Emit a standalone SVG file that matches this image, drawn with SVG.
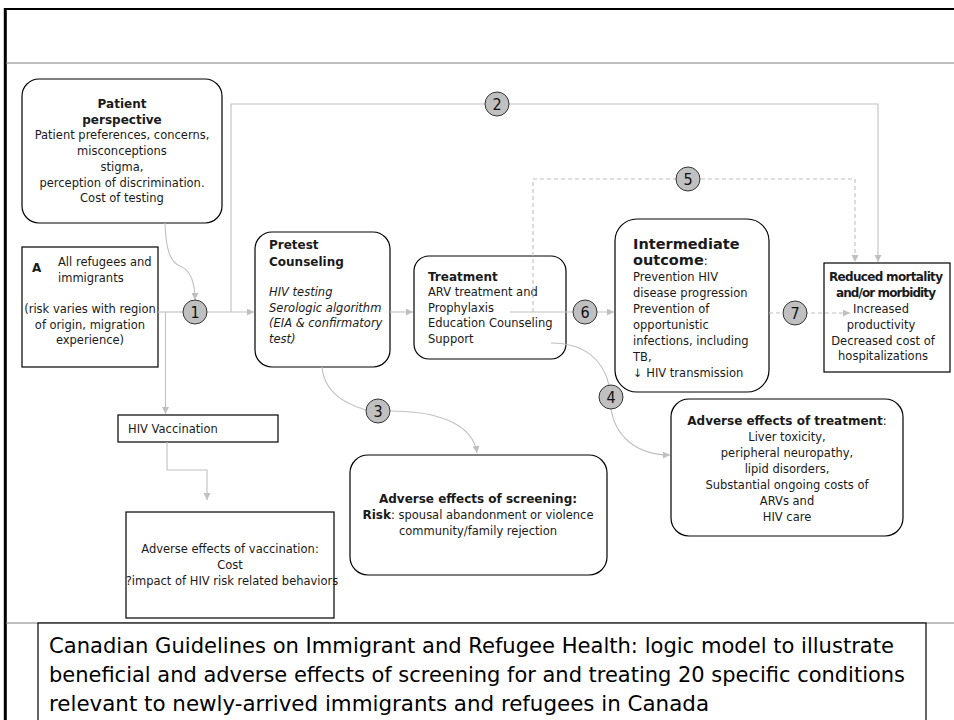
<svg xmlns="http://www.w3.org/2000/svg" width="954" height="720" viewBox="0 0 954 720">
  <defs>
    <marker id="arr" markerWidth="8" markerHeight="8" refX="7" refY="3.5" orient="auto" markerUnits="userSpaceOnUse">
      <path d="M0,0 L7,3.5 L0,7 z" fill="#c0c0c0"/>
    </marker>
  </defs>
  <style>
    .t{font-family:"DejaVu Sans","Liberation Sans",sans-serif;font-size:11.5px;fill:#1a1a1a}
    .b{font-weight:bold;font-size:12px}
    .i{font-style:italic}
    .m{text-anchor:middle}
    .box{fill:#fff;stroke:#000;stroke-width:1.2}
    .c{fill:none;stroke:#c0c0c0;stroke-width:1.1}
    .d{stroke-dasharray:4 3}
    .num circle{fill:#c0c0c0;stroke:#333;stroke-width:1}
    .num text{font-family:"DejaVu Sans Condensed","DejaVu Sans",sans-serif;font-size:16px;text-anchor:middle;fill:#111}
    .cap{font-family:"DejaVu Sans Condensed","DejaVu Sans",sans-serif;font-size:22px;fill:#000}
  </style>

  <rect width="954" height="720" fill="#fff"/>

  <!-- slide frame -->
  <g id="frame">
    <line x1="5.3" y1="8" x2="5.3" y2="720" stroke="#000" stroke-width="3"/>
    <line x1="4" y1="9" x2="954" y2="9" stroke="#000" stroke-width="2"/>
    <line x1="6" y1="63" x2="954" y2="63" stroke="#808080" stroke-width="1"/>
    <line x1="6" y1="623" x2="954" y2="623" stroke="#808080" stroke-width="1"/>
  </g>

  <!-- nodes -->
  <g id="patient-perspective">
    <rect class="box" x="22" y="79" width="200" height="144" rx="17"/>
    <text class="t b m" x="122" y="108">Patient</text>
    <text class="t b m" x="122" y="124">perspective</text>
    <text class="t m" x="122" y="139">Patient preferences, concerns,</text>
    <text class="t m" x="122" y="155">misconceptions</text>
    <text class="t m" x="122" y="171">stigma,</text>
    <text class="t m" x="122" y="187">perception of discrimination.</text>
    <text class="t m" x="122" y="202">Cost of testing</text>
  </g>

  <g id="population">
    <rect class="box" x="22" y="247" width="136" height="120"/>
    <text class="t b" x="32" y="272">A</text>
    <text class="t" x="58" y="266">All refugees and</text>
    <text class="t" x="58" y="282">immigrants</text>
    <text class="t m" x="90" y="313">(risk varies with region</text>
    <text class="t m" x="90" y="329">of origin, migration</text>
    <text class="t m" x="90" y="344">experience)</text>
  </g>

  <g id="pretest">
    <rect class="box" x="255" y="232" width="135" height="135" rx="17"/>
    <text class="t b" x="269" y="249">Pretest</text>
    <text class="t b" x="269" y="266">Counseling</text>
    <text class="t i" x="269" y="296">HIV testing</text>
    <text class="t i" x="269" y="312">Serologic algorithm</text>
    <text class="t i" x="269" y="327">(EIA &amp; confirmatory</text>
    <text class="t i" x="269" y="343">test)</text>
  </g>

  <g id="treatment">
    <rect class="box" x="414" y="256" width="152" height="103" rx="15"/>
    <text class="t b" x="428" y="281">Treatment</text>
    <text class="t" x="428" y="296">ARV treatment and</text>
    <text class="t" x="428" y="312">Prophylaxis</text>
    <text class="t" x="428" y="327">Education Counseling</text>
    <text class="t" x="428" y="343">Support</text>
  </g>

  <g id="intermediate-outcome">
    <rect class="box" x="615" y="219" width="154" height="173" rx="22"/>
    <text class="t b" x="633" y="249" style="font-size:14.5px">Intermediate</text>
    <text class="t" x="633" y="265"><tspan class="b" style="font-size:14.5px">outcome</tspan>:</text>
    <text class="t" x="633" y="281">Prevention HIV</text>
    <text class="t" x="633" y="297">disease progression</text>
    <text class="t" x="633" y="313">Prevention of</text>
    <text class="t" x="633" y="329">opportunistic</text>
    <text class="t" x="633" y="345">infections, including</text>
    <text class="t" x="633" y="361">TB,</text>
    <text class="t" x="633" y="377">↓ HIV transmission</text>
  </g>

  <g id="reduced-mortality">
    <rect class="box" x="824" y="263" width="126" height="109" stroke-width="1.5"/>
    <text class="t b m" x="886" y="281" textLength="114">Reduced mortality</text>
    <text class="t b m" x="886" y="297" textLength="100">and/or morbidity</text>
    <text class="t m" x="881" y="313">Increased</text>
    <text class="t m" x="881" y="329">productivity</text>
    <text class="t m" x="883" y="345">Decreased cost of</text>
    <text class="t m" x="883" y="360">hospitalizations</text>
  </g>

  <g id="hiv-vaccination">
    <rect class="box" x="118" y="415" width="160" height="27"/>
    <text class="t" x="128" y="433">HIV Vaccination</text>
  </g>

  <g id="adverse-vaccination">
    <rect class="box" x="126" y="512" width="208" height="106"/>
    <text class="t m" x="230" y="553">Adverse effects of vaccination:</text>
    <text class="t m" x="230" y="569">Cost</text>
    <text class="t m" x="232" y="585">?impact of HIV risk related behaviors</text>
  </g>

  <g id="adverse-screening">
    <rect class="box" x="350" y="455" width="257" height="120" rx="18"/>
    <text class="t b m" x="478" y="503">Adverse effects of screening:</text>
    <text class="t m" x="478" y="519"><tspan class="b">Risk</tspan>: spousal abandonment or violence</text>
    <text class="t m" x="478" y="535">community/family rejection</text>
  </g>

  <g id="adverse-treatment">
    <rect class="box" x="671" y="399" width="232" height="137" rx="18"/>
    <text class="t m" x="787" y="425"><tspan class="b">Adverse effects of treatment</tspan>:</text>
    <text class="t m" x="787" y="441">Liver toxicity,</text>
    <text class="t m" x="787" y="457">peripheral neuropathy,</text>
    <text class="t m" x="787" y="473">lipid disorders,</text>
    <text class="t m" x="787" y="489">Substantial ongoing costs of</text>
    <text class="t m" x="787" y="505">ARVs and</text>
    <text class="t m" x="787" y="521">HIV care</text>
  </g>

  <!-- connectors -->
  <g id="connectors">
    <path class="c" d="M158,312 H183"/>
    <path class="c" d="M207,312 H254" marker-end="url(#arr)"/>
    <path class="c" d="M231,312 V104 H878 V262" marker-end="url(#arr)"/>
    <path class="c" d="M165.5,312 V414" marker-end="url(#arr)"/>
    <path class="c" d="M165,223 C166,250 170,262 180,266 C190,270 195,280 195,300" marker-end="url(#arr)"/>
    <path class="c" d="M390,312 H413" marker-end="url(#arr)"/>
    <path class="c" d="M510,312 H614" marker-end="url(#arr)"/>
    <path class="c d" d="M533,312 V179 H855 V262" marker-end="url(#arr)"/>
    <path class="c d" d="M769,313 H850" marker-end="url(#arr)"/>
    <path class="c" d="M322,367 C324,392 345,404 366,410"/>
    <path class="c" d="M390,411 C440,411 473,425 477,453" marker-end="url(#arr)"/>
    <path class="c" d="M551,343 C585,343 603,360 609,385"/>
    <path class="c" d="M611,409 C615,435 635,455 670,455" marker-end="url(#arr)"/>
    <path class="c" d="M167,442 V470 H207 V500" marker-end="url(#arr)"/>
  </g>

  <!-- numbered link markers -->
  <g id="link-numbers" class="num">
    <g id="n1"><circle cx="195" cy="312" r="12"/><text x="195" y="318">1</text></g>
    <g id="n2"><circle cx="497" cy="104" r="12"/><text x="497" y="110">2</text></g>
    <g id="n3"><circle cx="378" cy="411" r="12"/><text x="378" y="417">3</text></g>
    <g id="n4"><circle cx="611" cy="397" r="12"/><text x="611" y="403">4</text></g>
    <g id="n5"><circle cx="688" cy="179" r="12"/><text x="688" y="185">5</text></g>
    <g id="n6"><circle cx="585" cy="312" r="12"/><text x="585" y="318">6</text></g>
    <g id="n7"><circle cx="795" cy="313" r="12"/><text x="795" y="319">7</text></g>
  </g>

  <!-- caption -->
  <g id="caption">
    <rect x="38" y="623" width="888" height="100" fill="#fff" stroke="#000" stroke-width="1.2"/>
    <text class="cap" x="49" y="653" textLength="845" lengthAdjust="spacingAndGlyphs">Canadian Guidelines on Immigrant and Refugee Health: logic model to illustrate</text>
    <text class="cap" x="49" y="682" textLength="856" lengthAdjust="spacingAndGlyphs">beneficial and adverse effects of screening for and treating 20 specific conditions</text>
    <text class="cap" x="49" y="711" textLength="660" lengthAdjust="spacingAndGlyphs">relevant to newly-arrived immigrants and refugees in Canada</text>
  </g>
</svg>
